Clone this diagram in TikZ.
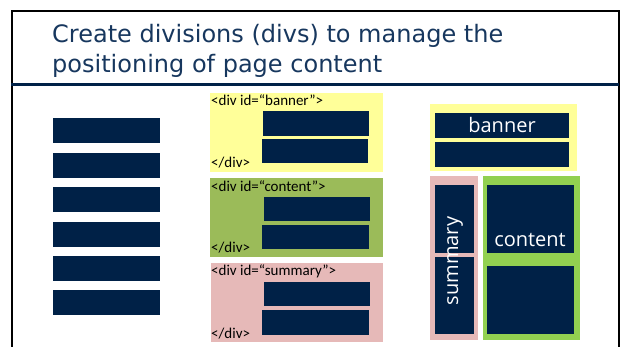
\documentclass[tikz,border=0pt]{standalone}
\usepackage{fontspec}
\setmainfont{Carlito}
\newfontfamily\divsTitleFont{DejaVu Sans}
\newfontfamily\divsLabelFont{Open Sans}
\newfontfamily\divsCodeFont{Carlito}
\usetikzlibrary{positioning}
\definecolor{divsNavy}{HTML}{002147}
\definecolor{divsTitle}{HTML}{17375E}
\definecolor{divsYellow}{HTML}{FFFF99}
\definecolor{divsOlive}{HTML}{9BBB59}
\definecolor{divsPink}{HTML}{E6B9B8}
\definecolor{divsLime}{HTML}{92D050}
\tikzset{
  divs/area/.style    = {rectangle, anchor=north west, inner sep=0pt, outer sep=0pt},
  divs/bar/.style     = {divs/area, fill=divsNavy, text=white,
                         font=\divsLabelFont\fontsize{20}{24}\selectfont},
  divs/banner/.style  = {divs/area, fill=divsYellow},
  divs/content/.style = {divs/area, fill=divsOlive},
  divs/summary/.style = {divs/area, fill=divsPink},
  divs/layout/.style  = {divs/area, fill=divsLime},
  divs/code/.style    = {anchor=base west, inner sep=0pt, text=black,
                         font=\divsCodeFont\fontsize{15}{17}\selectfont},
  divs/label/.style   = {anchor=base, inner sep=0pt, text=white,
                         font=\divsLabelFont\fontsize{20}{24}\selectfont},
  divs/title/.style   = {anchor=north west, inner sep=0pt, align=left, text=divsTitle,
                         font=\divsTitleFont\fontsize{24}{30}\selectfont},
  divs/frame/.style   = {line width=2pt, draw=black},
  divs/rule/.style    = {line width=3pt, draw=divsNavy},
}

\begin{document}
\begin{tikzpicture}[x=1pt, y=-1pt]
      \useasboundingbox (0,0) rectangle (621,347);
      % slide frame and title
      \coordinate (fbl) at (11.5,347);
      \coordinate (ftl) at (11.5,11);
      \coordinate (ftr) at (618.5,11);
      \coordinate (fbr) at (618.5,347);
      \draw[divs/frame] (fbl) -- (ftl) -- (ftr) -- (fbr);
      \coordinate (rl) at (11,85);
      \coordinate (rr) at (619,85);
      \draw[divs/rule] (rl) -- (rr);
      \node[divs/title] (title) at (52,24)
            {Create divisions (divs) to manage the\\positioning of page content};
      % plain content blocks
      \node[divs/bar, minimum width=107pt, minimum height=25pt] (p1) at (53,118) {};
      \node[divs/bar, minimum width=107pt, minimum height=25pt] (p2) at (53,153) {};
      \node[divs/bar, minimum width=107pt, minimum height=25pt] (p3) at (53,187) {};
      \node[divs/bar, minimum width=107pt, minimum height=25pt] (p4) at (53,222) {};
      \node[divs/bar, minimum width=107pt, minimum height=25pt] (p5) at (53,256) {};
      \node[divs/bar, minimum width=107pt, minimum height=25pt] (p6) at (53,290) {};
      % wrapped in divs
      \node[divs/banner, minimum width=173pt, minimum height=79pt] (dban) at (210,93) {};
      \node[divs/bar, minimum width=106pt, minimum height=25pt] (dban1) at (263,111) {};
      \node[divs/bar, minimum width=106pt, minimum height=24pt] (dban2) at (262,139) {};
      \node[divs/code] (dbanopen) at (211,106) {<div id=“banner”>};
      \node[divs/code] (dbanclose) at (211,168) {</div>};
      \node[divs/content, minimum width=173pt, minimum height=79pt] (dcon) at (210,178) {};
      \node[divs/bar, minimum width=106pt, minimum height=24pt] (dcon1) at (264,197) {};
      \node[divs/bar, minimum width=107pt, minimum height=24pt] (dcon2) at (262,225) {};
      \node[divs/code] (dconopen) at (211,192) {<div id=“content”>};
      \node[divs/code] (dconclose) at (211,253) {</div>};
      \node[divs/summary, minimum width=172pt, minimum height=79pt] (dsum) at (211,263) {};
      \node[divs/bar, minimum width=106pt, minimum height=24pt] (dsum1) at (264,282) {};
      \node[divs/bar, minimum width=107pt, minimum height=25pt] (dsum2) at (262,310) {};
      \node[divs/code] (dsumopen) at (211,276) {<div id=“summary”>};
      \node[divs/code] (dsumclose) at (211,338) {</div>};
      % resulting page layout
      \node[divs/banner, minimum width=147pt, minimum height=67pt] (lban) at (430,104) {};
      \node[divs/bar, minimum width=134pt, minimum height=25pt] (lban1) at (435,113) {banner};
      \node[divs/bar, minimum width=134pt, minimum height=25pt] (lban2) at (435,142) {};
      \node[divs/summary, minimum width=48pt, minimum height=164pt] (lsum) at (430,176) {};
      \node[divs/bar, minimum width=39pt, minimum height=68pt] (lsum1) at (435,185) {};
      \node[divs/bar, minimum width=39pt, minimum height=77pt] (lsum2) at (435,257) {};
      \node[divs/layout, minimum width=97pt, minimum height=164pt] (lcon) at (483,176) {};
      \node[divs/bar, minimum width=87pt, minimum height=68pt] (lcon1) at (487,185) {};
      \node[divs/bar, minimum width=87pt, minimum height=68pt] (lcon2) at (487,266) {};
      \node[divs/label] (lconlbl) at (530,247) {content};
      \node[divs/label, rotate=90] (lsumlbl) at (458,261) {summary};
    \end{tikzpicture}
\end{document}
